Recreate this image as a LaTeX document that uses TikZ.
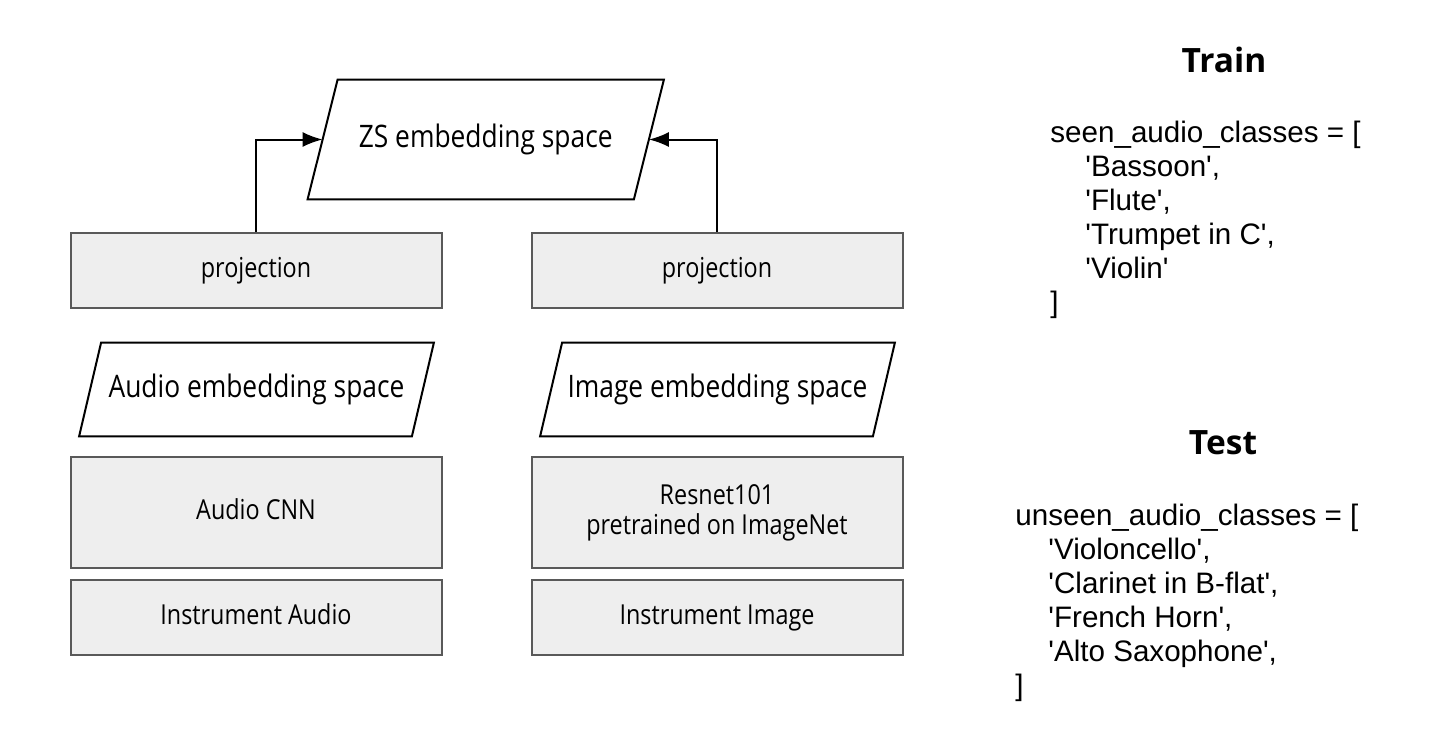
\documentclass[tikz,border=0pt]{standalone}
\usepackage{fontspec}
\setmainfont{Open Sans}[FakeStretch=0.85]
\newfontfamily\titlefont{Open Sans}
\newfontfamily\codefont{Liberation Sans}
\usetikzlibrary{arrows.meta}
\definecolor{boxfill}{HTML}{EEEEEE}
\definecolor{boxline}{HTML}{595959}
% straight quote, kept out of the TeX ligature mapping
\newcommand{\sq}{\XeTeXglyph\XeTeXcharglyph"27\relax}
\newcommand{\q}[1]{\sq#1\sq}

\begin{document}
\begin{tikzpicture}[x=0.5pt, y=-0.5pt,
        block/.style={draw=boxline, fill=boxfill, line width=1pt, minimum width=185.5pt, minimum height=37.5pt, inner sep=0pt, align=center, font=\fontsize{13.75}{15}\selectfont},
        oneline/.style={text height=0.84em, text depth=0.16em},
        space/.style={inner sep=0pt, minimum width=166pt, minimum height=46.5pt, font=\fontsize{15.5}{18}\selectfont},
        border/.style={draw, line width=1pt, line join=miter},
        title/.style={font=\titlefont\fontsize{16.75}{20}\selectfont\bfseries, inner sep=0pt, anchor=base},
        code/.style={font=\codefont\fontsize{14.8}{17}\selectfont, inner sep=0pt, anchor=base west},
        arrow/.style={line width=1pt, -{Latex[length=10pt, width=7.5pt]}}
    ]
    \useasboundingbox (0,0) rectangle (1436,750);

    % Spazio ZS
    \node[space, minimum width=162.75pt, minimum height=59.5pt] (zs) at (485.75,139.5) {ZS embedding space};

    % Proiezioni
    \node[block, oneline] (projL) at (256,270.5) {projection};
    \node[block, oneline] (projR) at (717,270.5) {projection};

    % Spazi di embedding
    \node[space] (audiospace) at (256.5,389.5) {Audio embedding space};
    \node[space] (imagespace) at (717.5,389.5) {Image embedding space};

    % Parallelogrammi
    \foreach \n/\s in {zs/7.5pt, audiospace/5.5pt, imagespace/5.5pt}
        \draw[border] ([xshift=\s]\n.north west) -- ([xshift=\s]\n.north east)
            -- ([xshift=-\s]\n.south east) -- ([xshift=-\s]\n.south west) -- cycle;

    % Reti
    \node[block, oneline, minimum height=55.5pt] (cnn) at (256,512.5) {Audio CNN};
    \node[block, minimum height=55.5pt] (resnet) at (717,512.5) {Resnet101\\pretrained on ImageNet};

    % Ingressi
    \node[block, oneline] (instaudio) at (256,617.5) {Instrument Audio};
    \node[block, oneline] (instimage) at (717,617.5) {Instrument Image};

    % Frecce
    \draw[arrow] (projL.north) |- (zs.west);
    \draw[arrow] (projR.north) |- (zs.east);

    % Classi di training
    \node[title] (train) at (1224,72) {Train};
    \node[code] (seenhead) at (1050,142) {seen\_audio\_classes = [};
    \foreach \t [count=\i] in {{\q{Bassoon},}, {\q{Flute},}, {\q{Trumpet in C},}, {\q{Violin}}}
        \node[code] (seen\i) at (1085,{142+34*\i}) {\t};
    \node[code] (seenend) at (1050,312) {]};

    % Classi di test
    \node[title] (test) at (1223,454) {Test};
    \node[code] (unseenhead) at (1015,525) {unseen\_audio\_classes = [};
    \foreach \t [count=\i] in {{\q{Violoncello},}, {\q{Clarinet in B-flat},}, {\q{French Horn},}, {\q{Alto Saxophone},}}
        \node[code] (unseen\i) at (1048,{525+34*\i}) {\t};
    \node[code] (unseenend) at (1015,695) {]};
\end{tikzpicture}
\end{document}
